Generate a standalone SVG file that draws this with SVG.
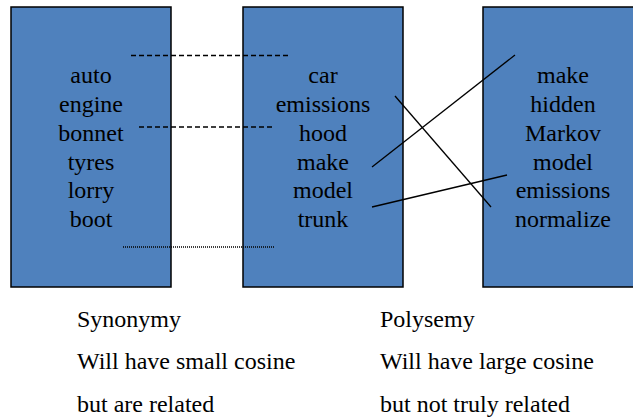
<svg xmlns="http://www.w3.org/2000/svg" width="633" height="419" viewBox="0 0 633 419">
<style>
.box{fill:#4F81BD;stroke:#000;stroke-width:1.5}
text{font-family:'Liberation Serif','Times New Roman','DejaVu Serif',serif;font-size:24px;fill:#000}
.c{text-anchor:middle}
.ln{stroke:#000;stroke-width:1.3;fill:none}
</style>
<rect width="633" height="419" fill="#fff"/>
<g id="box1" font-family="Liberation Serif, serif">
<rect class="box" x="11" y="7" width="160" height="280"/>
<text class="c" x="91" y="83">auto</text>
<text class="c" x="91" y="112">engine</text>
<text class="c" x="91" y="141">bonnet</text>
<text class="c" x="91" y="169.5">tyres</text>
<text class="c" x="91" y="198">lorry</text>
<text class="c" x="91" y="227">boot</text>
</g>
<g id="box2" font-family="Liberation Serif, serif">
<rect class="box" x="243" y="7" width="160" height="280"/>
<text class="c" x="323" y="83">car</text>
<text class="c" x="323" y="112">emissions</text>
<text class="c" x="323" y="141">hood</text>
<text class="c" x="323" y="169.5">make</text>
<text class="c" x="323" y="198">model</text>
<text class="c" x="323" y="227">trunk</text>
</g>
<g id="box3" font-family="Liberation Serif, serif">
<rect class="box" x="483" y="7" width="160" height="280"/>
<text class="c" x="563" y="83">make</text>
<text class="c" x="563" y="112">hidden</text>
<text class="c" x="563" y="141">Markov</text>
<text class="c" x="563" y="169.5">model</text>
<text class="c" x="563" y="198">emissions</text>
<text class="c" x="563" y="227">normalize</text>
</g>
<g id="connectors">
<line class="ln" x1="131" y1="55.5" x2="291" y2="55.5" stroke-dasharray="5,3"/>
<line class="ln" x1="139" y1="127" x2="275" y2="127" stroke-dasharray="5,3"/>
<line class="ln" x1="123" y1="247" x2="274" y2="247" stroke-dasharray="1,1"/>
<line class="ln" x1="395" y1="96" x2="491" y2="207"/>
<line class="ln" x1="372" y1="167" x2="515" y2="55"/>
<line class="ln" x1="372" y1="207" x2="507" y2="175"/>
</g>
<g id="captions" font-family="Liberation Serif, serif">
<text x="77" y="327">Synonymy</text>
<text x="77" y="369">Will have small cosine</text>
<text x="77" y="412">but are related</text>
<text x="380" y="327">Polysemy</text>
<text x="380" y="369">Will have large cosine</text>
<text x="380" y="412">but not truly related</text>
</g>
</svg>
